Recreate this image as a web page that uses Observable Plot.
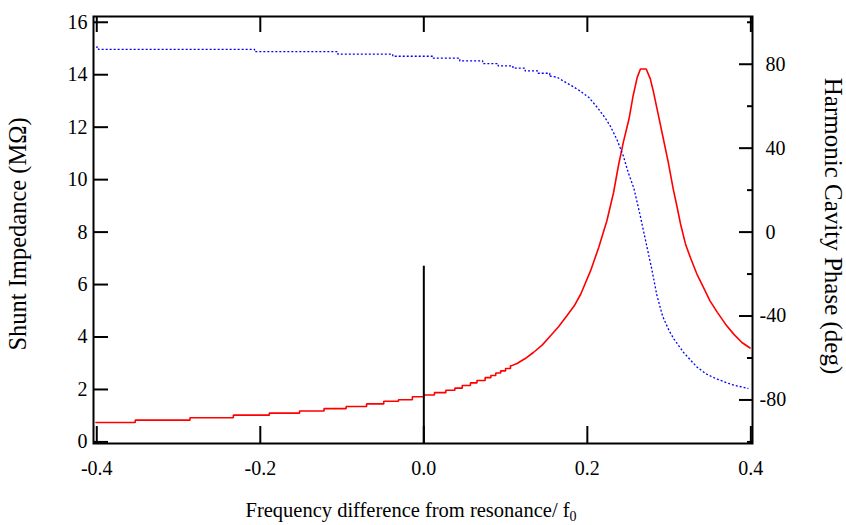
<!DOCTYPE html>
<html>
<head>
<meta charset="utf-8">
<script src="https://cdn.jsdelivr.net/npm/d3@7"></script>
<script src="https://cdn.jsdelivr.net/npm/@observablehq/plot@0.6"></script>
<style>
  html, body { margin: 0; padding: 0; background: #fff; }
  #chart svg { display: block; }
</style>
</head>
<body>
<div id="chart"></div>
<script>
// Shunt impedance (MΩ): quantised low-frequency tail, drawn as steps
const tailFreq = [-0.401, -0.353, -0.286, -0.233, -0.189, -0.152, -0.122, -0.095, -0.070, -0.049, -0.031, -0.014, 0.000, 0.013, 0.027, 0.038, 0.047, 0.057, 0.065, 0.075, 0.082, 0.088, 0.094, 0.100, 0.106];
const tailImpedance = [0.74, 0.83, 0.92, 1.02, 1.10, 1.18, 1.27, 1.35, 1.45, 1.55, 1.61, 1.72, 1.79, 1.88, 1.97, 2.05, 2.15, 2.25, 2.34, 2.45, 2.53, 2.63, 2.71, 2.80, 2.89];

// Shunt impedance (MΩ) through the resonance
const peakFreq = [0.106, 0.114, 0.124, 0.134, 0.145, 0.155, 0.165, 0.175, 0.184, 0.192, 0.204, 0.214, 0.224, 0.232, 0.238, 0.244, 0.251, 0.256, 0.261, 0.265, 0.272, 0.277, 0.281, 0.287, 0.293, 0.299, 0.305, 0.309, 0.314, 0.320, 0.326, 0.334, 0.342, 0.350, 0.359, 0.369, 0.379, 0.389, 0.399];
const peakImpedance = [2.89, 2.99, 3.18, 3.41, 3.70, 4.05, 4.40, 4.81, 5.19, 5.64, 6.53, 7.42, 8.44, 9.50, 10.53, 11.42, 12.32, 13.20, 13.90, 14.22, 14.22, 13.84, 13.33, 12.44, 11.55, 10.66, 9.65, 9.07, 8.31, 7.55, 7.03, 6.40, 5.89, 5.38, 4.94, 4.49, 4.11, 3.79, 3.58];

// Harmonic cavity phase (deg): stepped plateau, then the swing through resonance
const phaseStepFreq = [-0.401, -0.398, -0.207, -0.105, -0.038, 0.011, 0.044, 0.072, 0.091, 0.109, 0.124, 0.140, 0.154];
const phaseStep = [88.2, 87.1, 86.0, 84.8, 83.8, 82.9, 81.6, 80.3, 79.2, 78.1, 76.8, 75.7, 74.4];
const phaseFreq = [0.154, 0.163, 0.169, 0.181, 0.191, 0.202, 0.212, 0.222, 0.228, 0.236, 0.244, 0.250, 0.257, 0.264, 0.274, 0.279, 0.285, 0.292, 0.300, 0.306, 0.318, 0.334, 0.345, 0.357, 0.376, 0.397];
const phaseDeg = [74.4, 73.8, 72.4, 69.7, 67.3, 64.1, 59.5, 54.3, 50.6, 44.3, 36.3, 28.4, 20.8, 9.0, -9.0, -18.0, -30.0, -40.0, -47.0, -51.0, -57.5, -64.3, -67.5, -69.8, -72.6, -74.6];

// Marker at zero frequency offset
const markerFreq = [0];
const markerTop = [6.7];

// Ticks and titles
const xTicks = [-0.4, -0.2, 0, 0.2, 0.4];
const impedanceTicks = [0, 2, 4, 6, 8, 10, 12, 14, 16];
const phaseMajorTicks = [-80, -40, 0, 40, 80];
const phaseMinorTicks = [-100, -60, -20, 20, 60, 100];
const xTitle = "Frequency difference from resonance/ f";
const xTitleSub = "0";
const leftTitle = "Shunt Impedance (MΩ)";
const rightTitle = "Harmonic Cavity Phase (deg)";

const xDomain = [-0.404, 0.402];
const impedanceDomain = [-0.06, 16.22];

// The phase axis shares the vertical scale: 12.5° per MΩ, with 0° at 8 MΩ
const phaseToZ = p => 8 + p / 12.5;
const zToPhase = z => Math.round((z - 8) * 12.5);
const fmtPhase = z => String(zToPhase(z)).replace("\u2212", "-");

const zip = (xs, ys) => xs.map((x, i) => ({x, y: ys[i]}));
const tail = zip(tailFreq, tailImpedance);
const peak = zip(peakFreq, peakImpedance);
const phaseSteps = zip(phaseStepFreq, phaseStep);
const phaseCurve = zip(phaseFreq, phaseDeg);
const marker = zip(markerFreq, markerTop);

const ink = "#000";
const phaseLabelTicks = phaseMajorTicks.map(phaseToZ);

const chart = Plot.plot({
  width: 846,
  height: 525,
  marginLeft: 93,
  marginRight: 94,
  marginTop: 16,
  marginBottom: 82,
  style: {fontFamily: "'Liberation Serif', 'DejaVu Serif', serif", fontSize: "20px", color: ink, background: "#fff"},
  x: {domain: xDomain},
  y: {domain: impedanceDomain},
  marks: [
    // Impedance curve
    Plot.line(tail, {x: "x", y: "y", curve: "step-after", stroke: "#ff0000", strokeWidth: 1.6, strokeLinejoin: "miter"}),
    Plot.line(peak, {x: "x", y: "y", stroke: "#ff0000", strokeWidth: 1.6}),
    // Phase curve on the right-hand axis
    Plot.line(phaseSteps, {x: "x", y: d => phaseToZ(d.y), curve: "step-after", stroke: "#0000ff", strokeWidth: 1.3, strokeDasharray: "2,2", strokeLinecap: "butt"}),
    Plot.line(phaseCurve, {x: "x", y: d => phaseToZ(d.y), stroke: "#0000ff", strokeWidth: 1.3, strokeDasharray: "2,2", strokeLinecap: "butt"}),
    // Zero-offset marker
    Plot.ruleX(marker, {x: "x", y1: impedanceDomain[0], y2: "y", stroke: ink, strokeWidth: 2}),
    // Inward ticks on all four sides
    Plot.axisX(xTicks, {anchor: "bottom", tickSize: -17, strokeWidth: 2, fill: "none", label: null}),
    Plot.axisX(xTicks, {anchor: "top", tickSize: -15, strokeWidth: 2, fill: "none", label: null}),
    Plot.axisY(impedanceTicks, {anchor: "left", tickSize: -15, strokeWidth: 2, fill: "none", label: null}),
    Plot.axisY(phaseMajorTicks.map(phaseToZ), {anchor: "right", tickSize: -14, strokeWidth: 2, fill: "none", label: null}),
    Plot.axisY(phaseMinorTicks.map(phaseToZ), {anchor: "right", tickSize: -6, strokeWidth: 2, fill: "none", label: null}),
    // Tick labels
    Plot.axisX(xTicks, {anchor: "bottom", tickSize: 0, tickPadding: 17, tickFormat: d => d.toFixed(1), label: null}),
    Plot.axisY(impedanceTicks, {anchor: "left", tickSize: 0, tickPadding: 6, tickFormat: d => String(d), label: null}),
    Plot.axisY(phaseLabelTicks.filter(z => zToPhase(z) >= 0), {anchor: "right", tickSize: 0, tickPadding: 13, tickFormat: fmtPhase, label: null}),
    Plot.axisY(phaseLabelTicks.filter(z => zToPhase(z) < 0), {anchor: "right", tickSize: 0, tickPadding: 7, tickFormat: fmtPhase, label: null}),
    // Frame
    Plot.frame({stroke: ink, strokeWidth: 2}),
    // Axis titles
    Plot.text([leftTitle], {frameAnchor: "left", dx: -75, dy: 4, rotate: -90, textAnchor: "middle", lineAnchor: "middle", fontSize: 24.5}),
    Plot.text([rightTitle], {frameAnchor: "right", dx: 80, dy: -4, rotate: 90, textAnchor: "middle", lineAnchor: "middle", fontSize: 25}),
    Plot.text([xTitle], {frameAnchor: "bottom", dx: -12, dy: 67, textAnchor: "middle", lineAnchor: "middle", fontSize: 20.5})
  ]
});

// Subscript zero on the frequency title
d3.select(chart).selectAll("text")
  .filter(function () { return this.textContent === xTitle; })
  .append("tspan")
  .attr("dy", "0.3em")
  .attr("font-size", "14px")
  .text(xTitleSub);

document.getElementById("chart").appendChild(chart);
</script>
</body>
</html>
